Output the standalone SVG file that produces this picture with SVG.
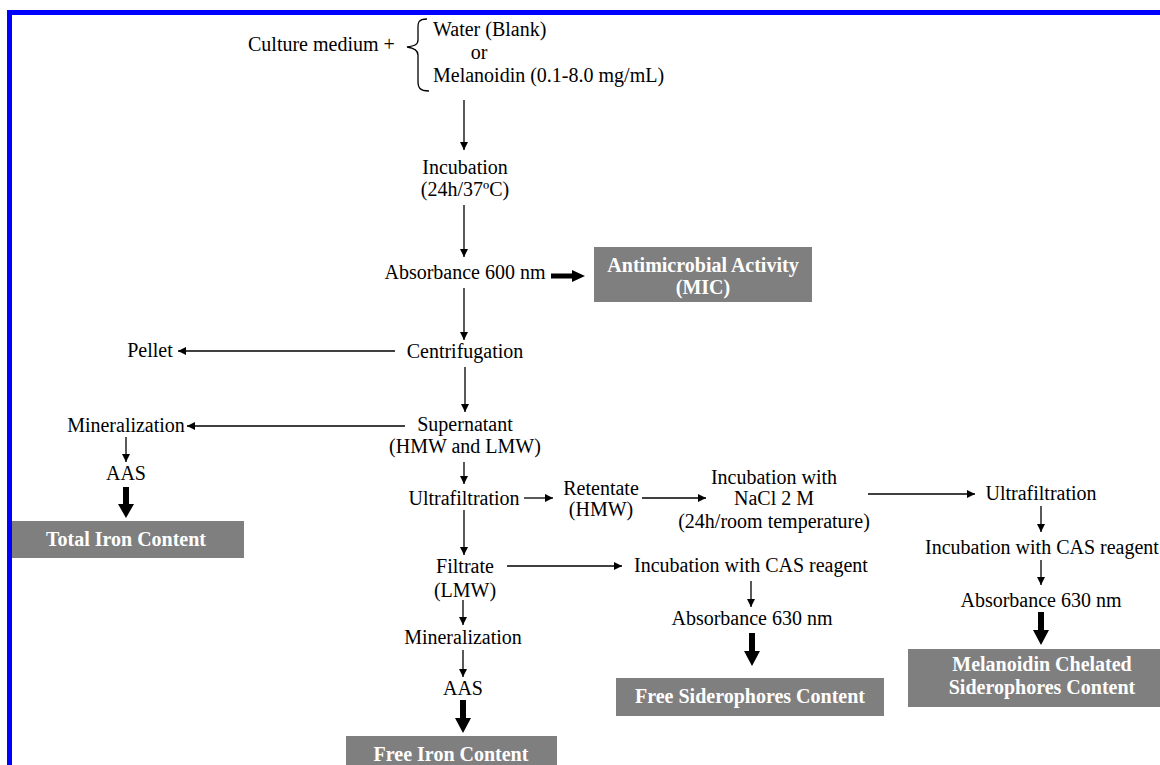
<svg xmlns="http://www.w3.org/2000/svg" width="1160" height="765" viewBox="0 0 1160 765" font-family="'Liberation Serif', 'Times New Roman', Times, 'DejaVu Serif', serif">
<defs>
<marker id="ah" viewBox="0 0 10 10" refX="10" refY="5" markerWidth="8" markerHeight="8" markerUnits="userSpaceOnUse" orient="auto">
<path d="M0,0 L10,5 L0,10 z" fill="#000"/>
</marker>
</defs>
<style>
text{font-family:'Liberation Serif','Times New Roman',Times,'DejaVu Serif',serif;font-size:20px;fill:#000}
.c{text-anchor:middle}
.b{font-weight:bold;fill:#fff;text-anchor:middle}
.box{fill:#7f7f7f}
.ln{stroke:#000;stroke-width:1.3;fill:none;marker-end:url(#ah)}
.thick{fill:#000}
</style>
<rect x="0" y="0" width="1160" height="765" fill="#fff"/>
<path d="M9.5,765 V12.5 H1160" fill="none" stroke="#0000ff" stroke-width="5"/>

<g id="start">
<text x="248" y="51">Culture medium +</text>
<path d="M427,19 C417,19 418,24 418,30 V40 C418,45 414,46 407,47 C414,48 418,50 418,55 V81 C418,87 419,91 429,91" fill="none" stroke="#000" stroke-width="1.3"/>
<text x="433" y="36">Water (Blank)</text>
<text x="479" y="59" class="c">or</text>
<text x="433" y="82">Melanoidin (0.1-8.0 mg/mL)</text>
</g>
<g id="incubation"><text x="465" y="174" class="c">Incubation</text><text x="465" y="196" class="c">(24h/37ºC)</text></g>
<g id="abs600"><text x="465" y="279" class="c">Absorbance 600 nm</text></g>
<g id="mic"><rect class="box" x="594" y="247" width="218" height="55"/><text x="703" y="272" class="b">Antimicrobial Activity</text><text x="703" y="294" class="b">(MIC)</text></g>
<g id="centrifugation"><text x="465" y="358" class="c">Centrifugation</text></g>
<g id="pellet"><text x="150" y="357" class="c">Pellet</text></g>
<g id="supernatant"><text x="465" y="431" class="c">Supernatant</text><text x="465" y="453" class="c">(HMW and LMW)</text></g>
<g id="mineral1"><text x="126" y="432" class="c">Mineralization</text></g>
<g id="aas1"><text x="126" y="480" class="c">AAS</text></g>
<g id="totaliron"><rect class="box" x="12" y="521" width="232" height="37"/><text x="126" y="546" class="b">Total Iron Content</text></g>
<g id="ultra1"><text x="464" y="505" class="c">Ultrafiltration</text></g>
<g id="retentate"><text x="601" y="495" class="c">Retentate</text><text x="601" y="516" class="c">(HMW)</text></g>
<g id="nacl"><text x="774" y="484" class="c">Incubation with</text><text x="774" y="505" class="c">NaCl 2 M</text><text x="774" y="528" class="c">(24h/room temperature)</text></g>
<g id="ultra2"><text x="1041" y="500" class="c">Ultrafiltration</text></g>
<g id="cas2"><text x="1042" y="554" class="c">Incubation with CAS reagent</text></g>
<g id="abs630b"><text x="1041" y="607" class="c">Absorbance 630 nm</text></g>
<g id="chelated"><rect class="box" x="908" y="649" width="252" height="58"/><text x="1042" y="671" class="b">Melanoidin Chelated</text><text x="1042" y="694" class="b">Siderophores Content</text></g>
<g id="filtrate"><text x="465" y="573" class="c">Filtrate</text><text x="465" y="597" class="c">(LMW)</text></g>
<g id="cas1"><text x="751" y="572" class="c">Incubation with CAS reagent</text></g>
<g id="abs630a"><text x="752" y="625" class="c">Absorbance 630 nm</text></g>
<g id="freesid"><rect class="box" x="616" y="678" width="268" height="38"/><text x="750" y="703" class="b">Free Siderophores Content</text></g>
<g id="mineral2"><text x="463" y="644" class="c">Mineralization</text></g>
<g id="aas2"><text x="463" y="695" class="c">AAS</text></g>
<g id="freeiron"><rect class="box" x="346" y="736" width="211" height="34"/><text x="451" y="761" class="b">Free Iron Content</text></g>

<g id="connectors">
<line class="ln" x1="464" y1="100" x2="464" y2="150"/>
<line class="ln" x1="464" y1="205" x2="464" y2="257"/>
<path class="thick" d="M551,273.5 H572 V270 L585,276 L572,282 V278.5 H551 z"/>
<line class="ln" x1="464" y1="288" x2="464" y2="340"/>
<line class="ln" x1="395" y1="351" x2="178" y2="351"/>
<line class="ln" x1="465" y1="367" x2="465" y2="412"/>
<line class="ln" x1="405" y1="426" x2="187" y2="426"/>
<line class="ln" x1="126" y1="437" x2="126" y2="462"/>
<path class="thick" d="M123,487 H129 V504 L134,504 L126,518 L118,504 H123 z"/>
<line class="ln" x1="464" y1="462" x2="464" y2="484"/>
<line class="ln" x1="524" y1="498" x2="553" y2="498"/>
<line class="ln" x1="642" y1="498" x2="706" y2="498"/>
<line class="ln" x1="868" y1="494" x2="975" y2="494"/>
<line class="ln" x1="1041" y1="506" x2="1041" y2="532"/>
<line class="ln" x1="1041" y1="560" x2="1041" y2="585"/>
<path class="thick" d="M1038,612 H1044 V630 L1049,630 L1041,645 L1033,630 H1038 z"/>
<line class="ln" x1="464" y1="510" x2="464" y2="555"/>
<line class="ln" x1="507" y1="566" x2="622" y2="566"/>
<line class="ln" x1="751" y1="581" x2="751" y2="607"/>
<path class="thick" d="M749,633 H755 V651 L760,651 L752,666 L744,651 H749 z"/>
<line class="ln" x1="463" y1="600" x2="463" y2="625"/>
<line class="ln" x1="463" y1="650" x2="463" y2="677"/>
<path class="thick" d="M460,700 H466 V718 L471,718 L463,733 L455,718 H460 z"/>
</g>
</svg>
